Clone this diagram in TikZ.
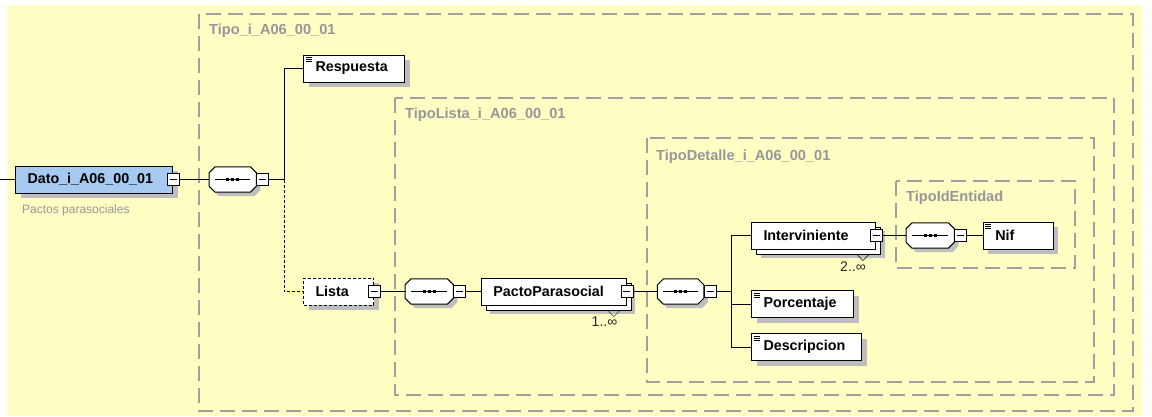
\documentclass[tikz,border=0pt]{standalone}
\usepackage{fontspec}
\setmainfont{Liberation Sans}
\usetikzlibrary{positioning,shadows}

\definecolor{bgyellow}{RGB}{255,255,196}
\definecolor{elemblue}{RGB}{166,202,240}
\definecolor{groupgray}{RGB}{160,160,160}
\definecolor{labelgray}{RGB}{150,150,155}
\definecolor{shadowgray}{RGB}{190,190,190}

\newcommand\elemfont{\fontsize{14.3}{16}\selectfont\bfseries}
\newcommand\groupfont{\fontsize{14.6}{16}\selectfont\bfseries\color{labelgray}}

\begin{document}
\begin{tikzpicture}[x=1pt,y=-1pt,
elemnode/.style={rectangle, draw, fill=white, line width=1pt, font=\elemfont, text width=#1, align=left,
  inner xsep=12pt, minimum height=27pt,
  general shadow={fill=shadowgray, shadow xshift=5pt, shadow yshift=-5pt}},
leafnode/.style={elemnode=#1,
  path picture={\foreach \k in {2.5pt,4.5pt,6.5pt}
    \draw[line width=0.7pt] ([shift={(2pt,-\k)}]path picture bounding box.north west) -- ++(6pt,0);}},
manynode/.style={elemnode=#1,
  general shadow={fill=shadowgray, shadow xshift=9pt, shadow yshift=-9pt},
  copy shadow={shadow xshift=5pt, shadow yshift=-5pt}},
seqnode/.style={rectangle, minimum width=#1, minimum height=25pt, inner sep=0pt},
seqline/.style={line width=1pt},
minusnode/.style={rectangle, draw, fill=white, line width=0.8pt, minimum size=12pt, inner sep=0pt,
  path picture={\draw[line width=0.8pt] ([xshift=2.5pt]path picture bounding box.west) -- ([xshift=-2.5pt]path picture bounding box.east);}},
groupbox/.style={draw=groupgray, line width=1.5pt, dash pattern=on 15pt off 7pt},
grouplabel/.style={anchor=west, inner sep=0pt, font=\groupfont},
manylabel/.style={inner sep=0pt, font=\fontsize{14}{16}\selectfont, text=black!85},
optline/.style={dash pattern=on 3pt off 2pt},
]
\useasboundingbox (0,0) rectangle (1152,416);
\fill[bgyellow] (7,5) rectangle (1142,416);

%Groups
\draw[groupbox] (199,14) rectangle (1133,411);
\draw[groupbox] (395,98) rectangle (1114,395);
\draw[groupbox] (647,138) rectangle (1094,382);
\draw[groupbox] (896,181) rectangle (1075,268);
\node[grouplabel] (tipo)     at (209,31)  {Tipo\_i\_A06\_00\_01};
\node[grouplabel] (tipolist) at (405,115) {TipoLista\_i\_A06\_00\_01};
\node[grouplabel] (tipodet)  at (656,157) {TipoDetalle\_i\_A06\_00\_01};
\node[grouplabel] (tipoid)   at (906,198) {TipoIdEntidad};

%Nodes
\coordinate (start) at (0,179.5);
\node[elemnode=133pt, fill=elemblue, anchor=west] (dato) at (15,179.5) {Dato\_i\_A06\_00\_01};
\node[anchor=west, inner sep=0pt, font=\fontsize{12}{14}\selectfont, text=labelgray] (datodoc) at (22,210) {Pactos parasociales};
\node[seqnode=47pt] (seqa) [right=36pt of dato] {};

\node[leafnode=77pt, anchor=west] (resp) at (303,68.5) {Respuesta};
\node[elemnode=46pt, fill=white, anchor=west, optline] (lista) at (303,291.5) {Lista};
\node[seqnode=48pt] (seqb) [right=31pt of lista] {};

\node[manynode=121pt] (pacto) [right=27.5pt of seqb] {PactoParasocial};
\node[manylabel] (pactoocc) at (604.5,322) {1..∞};
\node[seqnode=46pt] (seqc) [right=30.5pt of pacto] {};

\node[manynode=100pt, anchor=west] (interv) at (751,235.5) {Interviniente};
\node[manylabel] (intervocc) at (853,267) {2..∞};
\node[seqnode=48pt] (seqd) [right=30pt of interv] {};
\node[leafnode=46pt] (nif) [right=28.5pt of seqd] {Nif};

\node[leafnode=78pt, anchor=west] (porc) at (751,304) {Porcentaje};
\node[leafnode=86pt, anchor=west] (desc) at (751,347) {Descripcion};

%Sequence shapes
\foreach \s in {seqa,seqb,seqc,seqd}{
  \fill[shadowgray, transform canvas={shift={(4pt,-4pt)}}]
    ([xshift=6pt]\s.north west) -- ([xshift=-6pt]\s.north east) -- ([yshift=-6pt]\s.north east)
    -- ([yshift=6pt]\s.south east) -- ([xshift=-6pt]\s.south east) -- ([xshift=6pt]\s.south west)
    -- ([yshift=6pt]\s.south west) -- ([yshift=-6pt]\s.north west) -- cycle;
  \filldraw[fill=white, line width=1pt]
    ([xshift=6pt]\s.north west) -- ([xshift=-6pt]\s.north east) -- ([yshift=-6pt]\s.north east)
    -- ([yshift=6pt]\s.south east) -- ([xshift=-6pt]\s.south east) -- ([xshift=6pt]\s.south west)
    -- ([yshift=6pt]\s.south west) -- ([yshift=-6pt]\s.north west) -- cycle;
  \draw[seqline] ([xshift=6pt]\s.west) -- ([xshift=-6pt]\s.east);
  \foreach \d in {-5pt,0pt,5pt}
    \fill ([xshift=\d]\s.center) +(-1.7pt,-1.7pt) rectangle +(1.7pt,1.7pt);
}

%Collapse boxes
\node[minusnode] (datom) at (dato.east) {};
\node[minusnode] (seqam) [right=0pt of seqa] {};
\node[minusnode] (listam) at (lista.east) {};
\node[minusnode] (seqbm) [right=0pt of seqb] {};
\node[minusnode] (pactom) at (pacto.east) {};
\node[minusnode] (seqcm) [right=0pt of seqc] {};
\node[minusnode] (intervm) at (interv.east) {};
\node[minusnode] (seqdm) [right=0pt of seqd] {};
\coordinate (jct) at ([xshift=15pt]seqam.east);
\coordinate (jct2) at ([xshift=15pt]seqcm.east);

%Lines
\draw (start) -- (dato.west);
\draw (datom.east) -- (seqa.west);
\draw (seqam.east) -- (jct);
\draw (jct) |- (resp.west);
\draw[optline] (jct) |- (lista.west);
\draw (listam.east) -- (seqb.west);
\draw (seqbm.east) -- (pacto.west);
\draw (pactom.east) -- (seqc.west);
\draw (seqcm.east) -- (jct2);
\draw (jct2) |- (interv.west);
\draw (jct2) |- (porc.west);
\draw (jct2) |- (desc.west);
\draw (intervm.east) -- (seqd.west);
\draw (seqdm.east) -- (nif.west);
\draw ([shift={(-19pt,-5pt)}]pacto.south east) -- ++(6pt,-6pt) -- ++(6pt,6pt);
\draw ([shift={(-19pt,-5pt)}]interv.south east) -- ++(6pt,-6pt) -- ++(6pt,6pt);

\end{tikzpicture}
\end{document}
